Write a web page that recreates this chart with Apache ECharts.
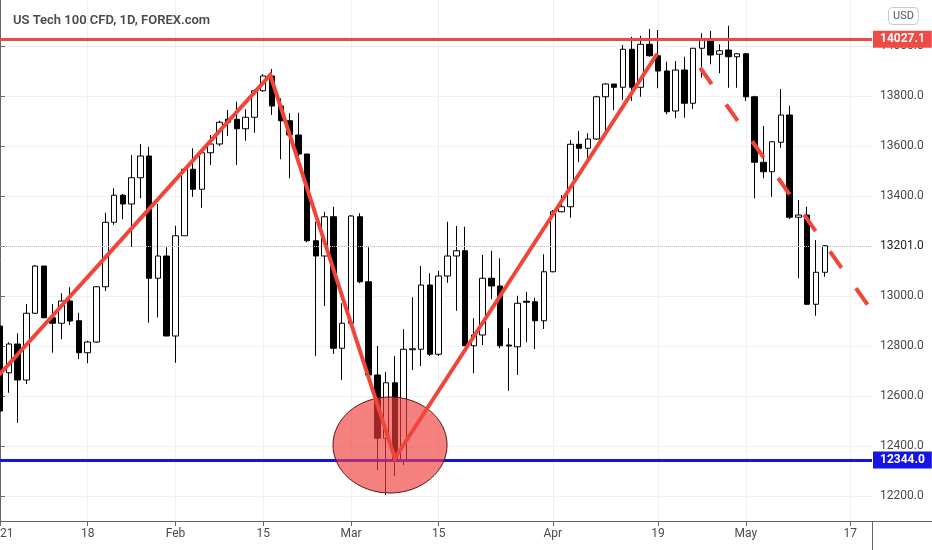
<!DOCTYPE html>
<html>
<head>
<meta charset="utf-8">
<script src="https://cdn.jsdelivr.net/npm/echarts@6/dist/echarts.min.js"></script>
<style>html,body{margin:0;padding:0;background:#fff}#c{width:932px;height:550px}</style>
</head>
<body>
<div id="c"></div>
<script>
// Trading days (category of each candle)
const dates = [
 '2021-01-04','2021-01-05','2021-01-06','2021-01-07','2021-01-08',
 '2021-01-11','2021-01-12','2021-01-13','2021-01-14','2021-01-15',
 '2021-01-18','2021-01-19','2021-01-20','2021-01-21','2021-01-22',
 '2021-01-25','2021-01-26','2021-01-27','2021-01-28','2021-01-29',
 '2021-02-01','2021-02-02','2021-02-03','2021-02-04','2021-02-05',
 '2021-02-08','2021-02-09','2021-02-10','2021-02-11','2021-02-12',
 '2021-02-15','2021-02-16','2021-02-17','2021-02-18','2021-02-19',
 '2021-02-22','2021-02-23','2021-02-24','2021-02-25','2021-02-26',
 '2021-03-01','2021-03-02','2021-03-03','2021-03-04','2021-03-05',
 '2021-03-08','2021-03-09','2021-03-10','2021-03-11','2021-03-12',
 '2021-03-15','2021-03-16','2021-03-17','2021-03-18','2021-03-19',
 '2021-03-22','2021-03-23','2021-03-24','2021-03-25','2021-03-26',
 '2021-03-29','2021-03-30','2021-03-31','2021-04-01','2021-04-02',
 '2021-04-05','2021-04-06','2021-04-07','2021-04-08','2021-04-09',
 '2021-04-12','2021-04-13','2021-04-14','2021-04-15','2021-04-16',
 '2021-04-19','2021-04-20','2021-04-21','2021-04-22','2021-04-23',
 '2021-04-26','2021-04-27','2021-04-28','2021-04-29','2021-04-30',
 '2021-05-03','2021-05-04','2021-05-05','2021-05-06','2021-05-07',
 '2021-05-10','2021-05-11','2021-05-12','2021-05-13','2021-05-14'
];
const openP = [12880,12693,12808,12664,12931,13120,12913,12891,12980,12901,
 12773,12816,13037,13295,13403,13368,13473,13560,13071,13160,
 12840,13241,13507,13427,13573,13608,13707,13707,13669,13715,
 13821,13880,13760,13701,13644,13568,13221,13160,13317,12791,
 12891,13317,13057,12684,12431,12653,12344,12785,12787,13044,
 12767,13080,13160,13181,12801,12844,13071,13040,12804,12797,
 12979,12977,12901,13097,13337,13357,13607,13591,13628,13797,
 13848,13835,13987,13835,14007,13961,13900,13740,13904,13771,
 13991,14024,13967,13984,13957,13969,13797,13535,13497,13615,
 13724,13315,13324,12967,13095];
const closeP = [12540,12808,12664,12931,13120,12913,12891,12980,12900,12773,
 12816,13037,13295,13403,13368,13473,13560,13071,13160,12840,
 13241,13507,13427,13573,13608,13695,13695,13669,13715,13821,
 13880,13760,13701,13644,13568,13221,13160,13317,12791,12891,
 13320,13057,12684,12431,12653,12344,12787,12789,13044,12767,
 13080,13160,13181,12801,12844,13071,13040,12801,12800,12971,
 12975,12901,13097,13337,13357,13607,13591,13628,13797,13848,
 13835,13987,13835,14007,13961,13900,13737,13904,13771,13991,
 14024,13964,13981,13957,13969,13797,13535,13497,13617,13724,
 13315,13324,12967,13095,13201];
const lowP = [12520,12613,12493,12648,12928,12911,12773,12827,12884,12747,
 12731,12813,13020,13285,13307,13197,13391,12893,12915,12840,
 12733,13241,13397,13353,13524,13600,13640,13524,13621,13653,
 13817,13724,13547,13471,13560,13215,12760,12960,12768,12664,
 12880,13051,12677,12304,12204,12280,12324,12704,12720,12760,
 12760,13053,12941,12801,12691,12804,12987,12791,12621,12684,
 12815,12788,12868,13095,13335,13313,13535,13551,13624,13657,
 13744,13784,13780,13797,13957,13831,13727,13711,13713,13748,
 13873,13927,13891,13833,13833,13780,13391,13471,13397,13593,
 13308,13071,12964,12921,13077];
const highP = [12956,12815,12851,12968,13124,13120,12968,13011,13035,12933,
 12821,13040,13333,13431,13408,13564,13608,13597,13368,13195,
 13281,13511,13591,13573,13644,13701,13744,13777,13747,13827,
 13888,13908,13791,13731,13733,13568,13297,13337,13357,12971,
 13324,13331,13195,12800,12697,12760,12867,12995,13120,13091,
 13101,13297,13280,13277,12911,13164,13181,13151,12871,13001,
 13017,12993,13167,13344,13404,13624,13660,13651,13801,13851,
 13848,14004,14037,14041,14068,14064,13937,13940,13957,13991,
 14051,14060,14007,14081,13971,13969,13801,13680,13620,13828,
 13761,13384,13357,13224,13204];

// Axis ticks
const xTickIdx  = [0, 10, 20, 30, 40, 50, 63, 75, 85, 96.9];
const xTickText = ['2021', '18', 'Feb', '15', 'Mar', '15', 'Apr', '19', 'May', '17'];
const yTicks = [12200, 12400, 12600, 12800, 13000, 13200, 13400, 13600, 13800, 14000];

// Drawn levels and trend lines (index, price)
const resistance = 14027.1;
const support = 12344.0;
const lastPrice = 13201.0;
const zigzag = [[0, 12688], [30.8, 13884], [45.0, 12351], [74.8, 13964]];
const projection = [[79.8, 13913], [98.9, 12964]];
const zone = [[44.45, 12404, 6.5, 192]]; // centre index, centre price, half-width (bars), half-height (price)

const FONT = 'Roboto, "Liberation Sans", sans-serif';
const candles = dates.map((d, i) => [i, openP[i], closeP[i], lowP[i], highP[i]]);

const chart = echarts.init(document.getElementById('c'), null, {renderer: 'canvas'});
chart.setOption({
  animation: false,
  backgroundColor: '#ffffff',
  title: {
    text: 'US Tech 100 CFD, 1D, FOREX.com',
    left: 8, top: 9,
    textStyle: {fontSize: 13, fontWeight: 600, color: '#4a4a4a', fontFamily: FONT}
  },
  grid: {left: 0, right: 60, top: 0, bottom: 29, containLabel: false, outerBoundsMode: 'none'},
  xAxis: {
    type: 'value', min: 0, max: 99.38,
    axisLine: {show: true, onZero: false, lineStyle: {color: '#666', width: 1}},
    axisTick: {show: true, customValues: xTickIdx, length: 5, lineStyle: {color: '#666'}},
    axisLabel: {
      customValues: xTickIdx, showMinLabel: true, showMaxLabel: true, hideOverlap: false,
      color: '#4a4a4a', fontSize: 12, fontFamily: FONT, margin: 7,
      formatter: v => { let k = 0, b = 1e9; xTickIdx.forEach((t, j) => { if (Math.abs(t - v) < b) { b = Math.abs(t - v); k = j; } }); return xTickText[k]; }
    },
    splitLine: {show: true, lineStyle: {color: '#eef0f3', width: 1}}
  },
  yAxis: {
    type: 'value', position: 'right', min: 12100, max: 14184, scale: true,
    axisLine: {show: true, lineStyle: {color: '#666', width: 1}},
    axisTick: {show: true, customValues: yTicks, length: 5, lineStyle: {color: '#666'}},
    axisLabel: {
      customValues: yTicks, color: '#4a4a4a', fontSize: 12, fontFamily: FONT, margin: 8,
      formatter: v => (v === 13200 ? '' : v.toFixed(1))
    },
    splitLine: {show: true, lineStyle: {color: '#eef0f3', width: 1}}
  },
  graphic: [
    {type: 'line', shape: {x1: 872, y1: 521.5, x2: 932, y2: 521.5}, style: {stroke: '#666', lineWidth: 1}, silent: true},
    {type: 'line', shape: {x1: 872.5, y1: 521, x2: 872.5, y2: 550}, style: {stroke: '#666', lineWidth: 1}, silent: true},
    {type: 'rect', shape: {x: 888.5, y: 7.5, width: 30, height: 17, r: 4}, style: {fill: '#fff', stroke: '#c8cad0', lineWidth: 1}, silent: true},
    {type: 'text', x: 903.5, y: 16, style: {text: 'USD', fill: '#555', fontSize: 11, fontFamily: FONT, align: 'center', verticalAlign: 'middle'}, silent: true}
  ],
  series: [
    {
      type: 'candlestick', name: 'US100', data: candles, barWidth: 6, z: 2,
      itemStyle: {color: '#ffffff', color0: '#000000', borderColor: '#000000', borderColor0: '#000000', borderWidth: 1},
      markLine: {
        silent: true, symbol: 'none', animation: false, z: 5,
        data: [
          {yAxis: support, lineStyle: {color: '#1414e6', width: 3, type: 'solid'},
           label: {show: true, position: 'end', distance: 1, formatter: support.toFixed(1), color: '#fff', backgroundColor: '#1414e6', padding: [3, 7, 2, 7], fontSize: 12, fontWeight: 'bold', fontFamily: FONT}},
          {yAxis: resistance, lineStyle: {color: '#ea4a45', width: 3, type: 'solid'},
           label: {show: true, position: 'end', distance: 1, formatter: resistance.toFixed(1), color: '#fff', backgroundColor: '#ef4a44', padding: [3, 7, 2, 7], fontSize: 12, fontWeight: 'bold', fontFamily: FONT}},
          {yAxis: lastPrice, lineStyle: {color: '#bdbdbd', width: 1, type: 'dotted'},
           label: {show: true, position: 'end', distance: 4, formatter: lastPrice.toFixed(1), color: '#222', backgroundColor: '#fff', padding: [3, 4, 2, 4], fontSize: 12, fontFamily: FONT}}
        ]
      }
    },
    {
      type: 'custom', name: 'zone', data: zone, z: 6, silent: true,
      encode: {x: 0, y: 1},
      renderItem: (params, api) => {
        const c = api.coord([api.value(0), api.value(1)]);
        const s = api.size([api.value(2), api.value(3)]);
        return {type: 'ellipse', shape: {cx: c[0], cy: c[1], rx: s[0], ry: s[1]},
                style: {fill: 'rgba(240,60,60,0.65)', stroke: '#5e1414', lineWidth: 1}};
      }
    },
    {
      type: 'line', name: 'zigzag', data: zigzag, z: 7, showSymbol: false, symbol: 'none', silent: true,
      lineStyle: {color: '#f0463a', width: 4, cap: 'round', join: 'miter'}
    },
    {
      type: 'line', name: 'projection', data: projection, z: 7, showSymbol: false, symbol: 'none', silent: true,
      lineStyle: {color: '#f0463a', width: 4, type: [20, 25]}
    }
  ]
});
</script>
</body>
</html>
